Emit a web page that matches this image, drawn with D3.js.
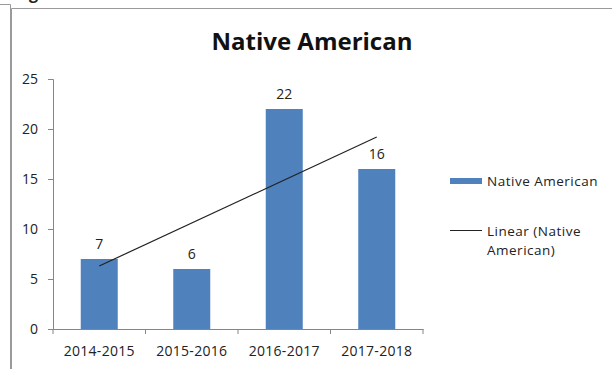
<!DOCTYPE html>
<html>
<head>
<meta charset="utf-8">
<script src="https://cdn.jsdelivr.net/npm/d3@7"></script>
<style>
  body { margin: 0; background: #fff; }
  svg { display: block; }
  text { font-family: "Open Sans", "Liberation Sans", sans-serif; fill: #222; }
</style>
</head>
<body>
<div id="chart"></div>
<script>
// данные графика
const categories = ["2014-2015", "2015-2016", "2016-2017", "2017-2018"];
const values = [7, 6, 22, 16];
const yTicks = [0, 5, 10, 15, 20, 25];
const chartTitle = "Native American";
const seriesName = "Native American";
const trendName = ["Linear (Native", "American)"];

const width = 612, height = 369;
const margin = { left: 53, right: 189, top: 79, bottom: 40 };

const svg = d3.select("#chart").append("svg")
    .attr("width", width)
    .attr("height", height);

// рамка
svg.append("path")
    .attr("d", "M0,4.5H10.5V369")
    .attr("fill", "none")
    .attr("stroke", "#9a9a9a");
svg.append("path")
    .attr("d", "M11.5,369V8.5H612")
    .attr("fill", "none")
    .attr("stroke", "#9a9a9a");

// обрезанный текст сверху (как в оригинале)
svg.append("text")
    .attr("x", 29)
    .attr("y", -1)
    .style("font-size", "16px")
    .style("font-weight", "bold")
    .text("g");

const x = d3.scaleBand()
    .domain(categories)
    .range([margin.left, width - margin.right])
    .paddingInner(0.6)
    .paddingOuter(0.3);

const y = d3.scaleLinear()
    .domain([0, 25])
    .range([height - margin.bottom, margin.top]);

// заголовок
svg.append("text")
    .attr("x", 312)
    .attr("y", 50)
    .attr("text-anchor", "middle")
    .style("font-size", "24px")
    .style("font-weight", "bold")
    .style("fill", "#111")
    .text(chartTitle);

// оси
const yAxis = svg.append("g")
    .attr("transform", `translate(${margin.left},0)`)
    .call(d3.axisLeft(y).tickValues(yTicks).tickSize(5).tickPadding(10));

const xAxis = svg.append("g")
    .attr("transform", `translate(0,${height - margin.bottom})`)
    .call(d3.axisBottom(x).tickSize(0).tickPadding(17));

[yAxis, xAxis].forEach(a => {
    a.select(".domain").attr("stroke", "#868686");
    a.selectAll(".tick line").attr("stroke", "#868686");
    a.selectAll("text").style("font-size", "14px").style("fill", "#222")
        .style("font-family", "'Open Sans', sans-serif");
});
xAxis.selectAll("text").style("letter-spacing", "0.3px");

// деления между категориями
const bounds = categories.map((c, i) => margin.left + i * ((width - margin.right - margin.left) / categories.length));
bounds.push(width - margin.right);
xAxis.selectAll(".sep")
    .data(bounds)
    .enter().append("line")
    .attr("x1", d => d).attr("x2", d => d)
    .attr("y1", 0).attr("y2", 5)
    .attr("stroke", "#868686");

// столбцы
svg.append("g")
    .selectAll("rect")
    .data(values)
    .enter().append("rect")
    .attr("x", (d, i) => x(categories[i]))
    .attr("y", d => y(d))
    .attr("width", x.bandwidth())
    .attr("height", d => y(0) - y(d))
    .attr("fill", "#4f81bd");

// подписи значений
svg.append("g")
    .selectAll("text")
    .data(values)
    .enter().append("text")
    .attr("x", (d, i) => x(categories[i]) + x.bandwidth() / 2)
    .attr("y", d => y(d) - 10)
    .attr("text-anchor", "middle")
    .style("font-size", "14px")
    .text(d => d);

// линейный тренд (МНК)
const n = values.length;
const xs = d3.range(1, n + 1);
const mx = d3.mean(xs), my = d3.mean(values);
const slope = d3.sum(xs, (xi, i) => (xi - mx) * (values[i] - my)) / d3.sum(xs, xi => (xi - mx) ** 2);
const intercept = my - slope * mx;
const cx = i => x(categories[i]) + x.bandwidth() / 2;

svg.append("line")
    .attr("x1", cx(0))
    .attr("y1", y(intercept + slope * 1))
    .attr("x2", cx(n - 1))
    .attr("y2", y(intercept + slope * n))
    .attr("stroke", "#222")
    .attr("stroke-width", 1.2);

// легенда
const legend = svg.append("g");
legend.append("rect")
    .attr("x", 450).attr("y", 178)
    .attr("width", 32).attr("height", 6)
    .attr("fill", "#4f81bd");
legend.append("text")
    .attr("x", 487).attr("y", 186)
    .style("font-size", "13.5px")
    .style("letter-spacing", "0.5px")
    .text(seriesName);
legend.append("line")
    .attr("x1", 450).attr("x2", 482)
    .attr("y1", 230.5).attr("y2", 230.5)
    .attr("stroke", "#222");
legend.selectAll(".tl")
    .data(trendName)
    .enter().append("text")
    .attr("x", 487)
    .attr("y", (d, i) => 236 + i * 19)
    .style("font-size", "13.5px")
    .style("letter-spacing", "0.5px")
    .text(d => d);
</script>
</body>
</html>
